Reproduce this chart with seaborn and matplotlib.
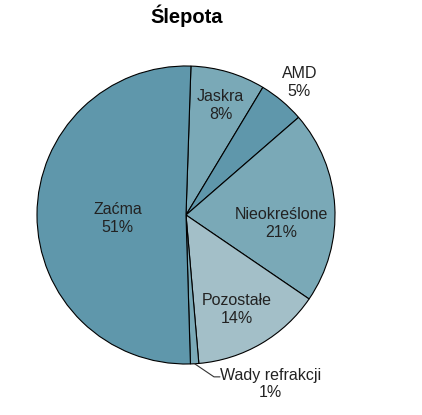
import numpy as np
import matplotlib
matplotlib.use("Agg")
import matplotlib.pyplot as plt
import seaborn as sns

# data (percent of blindness causes)
categories = ["Jaskra", "AMD", "Nieokreślone", "Pozostałe", "Wady refrakcji", "Zaćma"]
values = [8.1, 5.0, 20.9, 14.1, 0.9, 51.0]
pct_labels = ["8%", "5%", "21%", "14%", "1%", "51%"]

# styling
colors = ["#7aa9b7", "#5f97ab", "#7aa9b7", "#a3bfc8", "#7aa9b7", "#5f97ab"]
label_r = [0.77, 1.17, 0.64, 0.72, None, 0.46]
label_nudge = [-1, -0.5, -8.6, -1.8, 0, 3.2]

sns.set_style("white")
plt.rcParams["font.family"] = ["Liberation Sans", "DejaVu Sans"]

fig = plt.figure(figsize=(4.22, 4.15), dpi=100)
ax = fig.add_axes([37 / 422, 51 / 415, 298 / 422, 298 / 415])

wedges, _ = ax.pie(values, colors=colors, startangle=88.1, counterclock=False,
                   radius=1.0, wedgeprops=dict(edgecolor="black", linewidth=0.8))
ax.set_xlim(-1, 1)
ax.set_ylim(-1, 1)
ax.axis("off")

txt_color = "#222222"
fs = 11.5
for w, cat, pct, r, nudge in zip(wedges, categories, pct_labels, label_r, label_nudge):
    mid = np.deg2rad((w.theta1 + w.theta2) / 2)
    if r is None:
        # small slice: leader line to the outside label
        ex, ey = np.cos(mid), np.sin(mid)
        kx, ky = ex + 0.13, ey - 0.088
        ax.plot([ex, kx, kx + 0.04], [ey, ky, ky], color="#333333", lw=0.8, clip_on=False)
        ax.text(kx + 0.042, ky - 0.048, f"{cat}\n{pct}", ha="left", va="center",
                multialignment="center", fontsize=fs, color=txt_color, linespacing=1.22)
        continue
    a = mid + np.deg2rad(nudge)
    ax.text(r * np.cos(a), r * np.sin(a), f"{cat}\n{pct}", ha="center", va="center",
            fontsize=fs, color=txt_color, linespacing=1.22)

fig.text(187 / 422, 1 - 16 / 415, "Ślepota", ha="center", va="center",
         fontsize=14.5, fontweight="bold", color="black")

fig.savefig("out.png", dpi=100)
plt.close()
